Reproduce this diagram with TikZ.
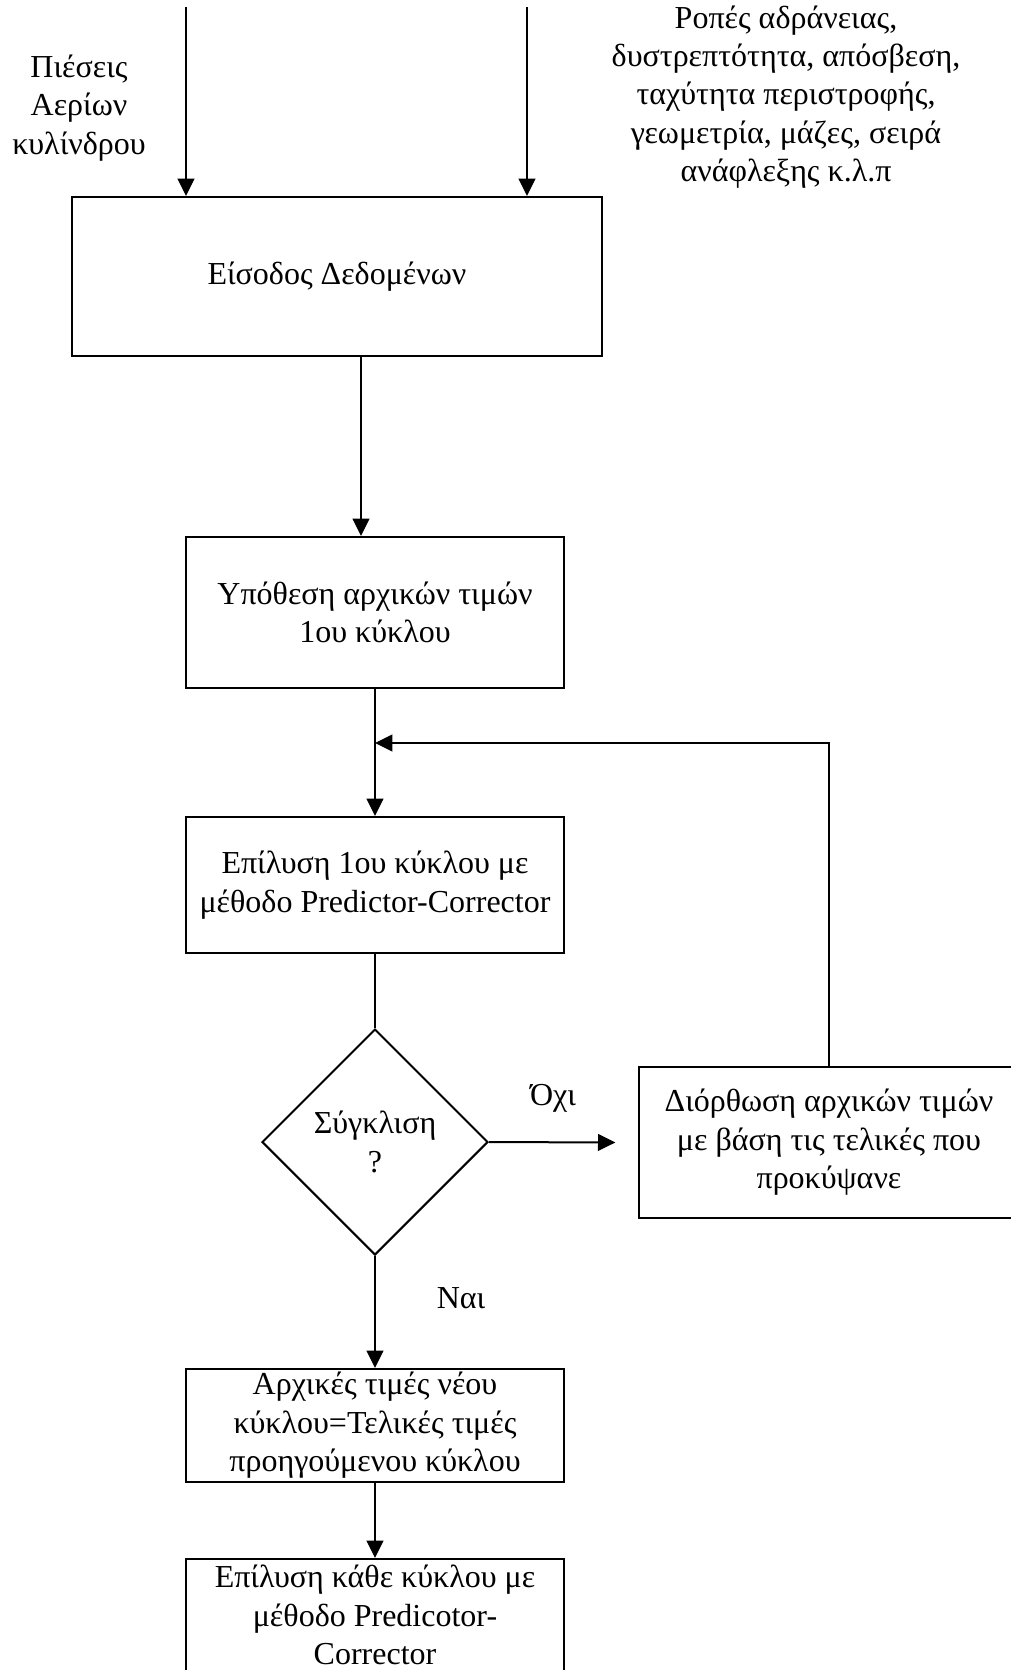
\documentclass[tikz,border=0pt]{standalone}
\usepackage{fontspec}
\setmainfont{Liberation Serif}
\usetikzlibrary{arrows.meta,shapes.geometric}

\begin{document}
\begin{tikzpicture}[x=0.75pt,y=0.75pt,yscale=-1,xscale=1,
  every node/.style={font=\fontsize{24}{28.8}\selectfont, align=center},
  box/.style={draw, line width=1.5pt, inner sep=0pt},
  arr/.style={line width=1.5pt, -{Triangle[length=13pt,width=12.5pt]}},
  plain/.style={line width=1.5pt}]
%set diagram size to the reference, 1010 x 1670
\useasboundingbox (0,0) rectangle (1010,1670);

%Shape: Rectangle [Eisodos]
\node [box, minimum width=397.5pt, minimum height=119.25pt] (box1) at (337,276.5) {Είσοδος Δεδομένων};
%Shape: Rectangle [Ypothesi]
\node [box, minimum width=283.5pt, minimum height=113.25pt] (box2) at (375,612.5) {Υπόθεση αρχικών τιμών\\1ου κύκλου};
%Shape: Rectangle [Epilysi 1]
\node [box, minimum width=283.5pt, minimum height=102pt] (box3) at (375,885) {Επίλυση 1ου κύκλου με\\μέθοδο Predictor-Corrector};
%Shape: Diamond [Sygklisi]
\node [box, shape=diamond, minimum width=169.5pt, minimum height=169.5pt] (conv) at (375,1142) {Σύγκλιση\\?};
%Shape: Rectangle [Diorthosi]
\node [box, minimum width=285pt, minimum height=113.25pt] (box4) at (829,1142.5) {Διόρθωση αρχικών τιμών\\με βάση τις τελικές που\\προκύψανε};
%Shape: Rectangle [Arxikes nea]
\node [box, minimum width=283.5pt, minimum height=84.75pt] (box5) at (375,1425.5) {Αρχικές τιμές νέου\\κύκλου=Τελικές τιμές\\προηγούμενου κύκλου};
%Shape: Rectangle [Epilysi kathe], cut off by the lower edge
\node [box, anchor=north, minimum width=283.5pt, minimum height=84pt] (box6) at (375,1558) {Επίλυση κάθε κύκλου με\\μέθοδο Predicotor-\\Corrector};

% Text Node
\node (pres) at (79,108) {Πιέσεις\\Αερίων\\κυλίνδρου};
% Text Node
\node (props) at (786,97) {Ροπές αδράνειας,\\δυστρεπτότητα, απόσβεση,\\ταχύτητα περιστροφής,\\γεωμετρία, μάζες, σειρά\\ανάφλεξης κ.λ.π};
% Text Node
\node (no) at (553,1098) {Όχι};
% Text Node
\node (yes) at (461,1298) {Ναι};

%free ends and joints
\coordinate (inA) at (186,7);
\coordinate (inB) at (527,7);
\coordinate (j1) at (361,0);
\coordinate (fb) at (375,743);

%Straight Lines
\draw [arr] (inA) -- (inA |- box1.north);
\draw [arr] (inB) -- (inB |- box1.north);
\draw [arr] (box1.south -| j1) -- (box2.north -| j1);
\draw [arr] (box2.south) -- (box3.north);
\draw [arr] (box4.north) |- (fb);
\draw [plain] (box3.south) -- (conv.north);
\draw [arr] (conv.east) -- ([xshift=-17pt]box4.west);
\draw [arr] (conv.south) -- (box5.north);
\draw [arr] (box5.south) -- (box6.north);

\end{tikzpicture}
\end{document}
